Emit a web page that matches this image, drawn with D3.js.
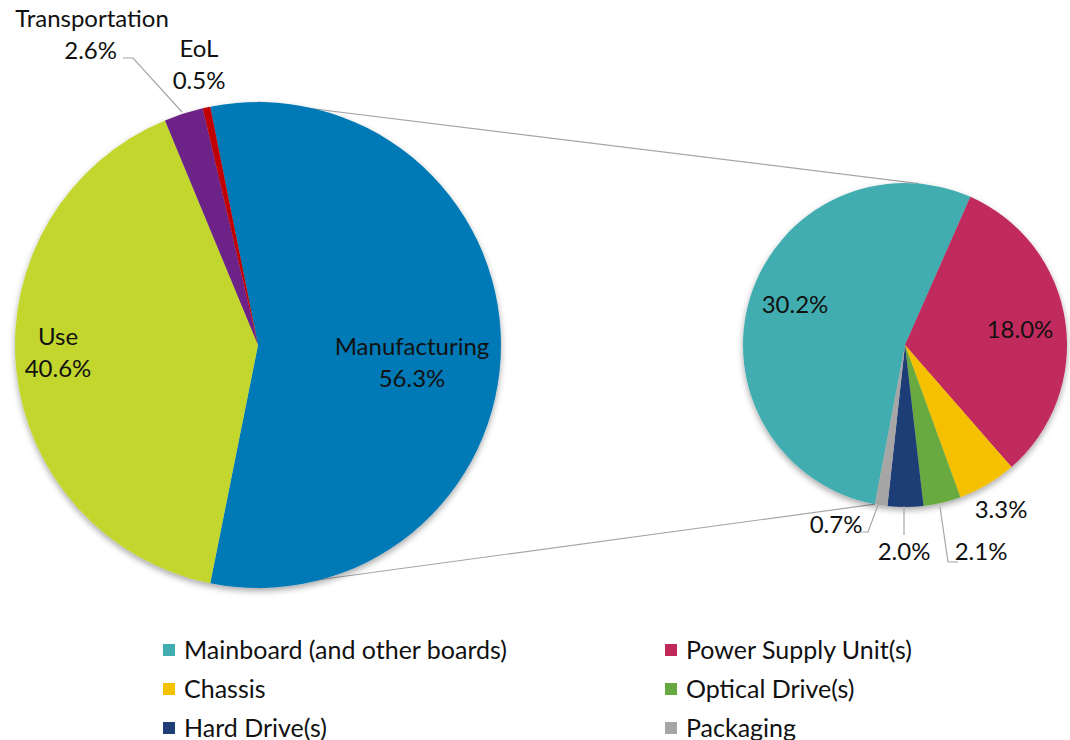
<!DOCTYPE html>
<html>
<head>
<meta charset="utf-8">
<script src="https://cdn.jsdelivr.net/npm/d3@7"></script>
<style>
  body { margin: 0; background: #fff; }
  text { font-family: Lato, "Noto Sans", sans-serif; fill: #111; }
</style>
</head>
<body>
<div id="chart"></div>
<script>
// main pie
var stageNames = ["Manufacturing", "Use", "Transportation", "EoL"];
var stageValues = [56.3, 40.6, 2.6, 0.5];
var stageColors = ["#007ab6", "#c3d62f", "#6c2386", "#c00000"];

// breakdown of manufacturing
var partNames = ["Mainboard (and other boards)", "Power Supply Unit(s)", "Chassis",
  "Optical Drive(s)", "Hard Drive(s)", "Packaging"];
var partValues = [30.2, 18.0, 3.3, 2.1, 2.0, 0.7];
var partColors = ["#42adb0", "#c1295b", "#f5c000", "#68a93f", "#1f3e75", "#a6a6a6"];

var width = 1070, height = 740;
var rad = Math.PI / 180;

var svg = d3.select("#chart").append("svg")
  .attr("width", width)
  .attr("height", height);

var defs = svg.append("defs");
var shadow = defs.append("filter").attr("id", "shadow")
  .attr("x", "-10%").attr("y", "-10%").attr("width", "120%").attr("height", "125%");
shadow.append("feDropShadow")
  .attr("dx", 0).attr("dy", 3).attr("stdDeviation", 3)
  .attr("flood-color", "#000").attr("flood-opacity", 0.35);

var fmt = function (v) { return d3.format(".1f")(v) + "%"; };

// pie geometry
var main = { cx: 258, cy: 345, r: 243 };
var sub = { cx: 905, cy: 345, r: 162 };

var mainSpan = stageValues[0] / d3.sum(stageValues) * 360;
var mainPie = d3.pie().sort(null)
  .startAngle((90 - mainSpan / 2) * rad)
  .endAngle((90 - mainSpan / 2 + 360) * rad);
var subPie = d3.pie().sort(null)
  .startAngle(-169.3 * rad)
  .endAngle((360 - 169.3) * rad);

var mainArcs = mainPie(stageValues);
var subArcs = subPie(partValues);

// connector lines (drawn below the pies)
function onCircle(c, deg) {
  return [c.cx + c.r * Math.sin(deg * rad), c.cy - c.r * Math.cos(deg * rad)];
}
var connectors = [
  [onCircle(main, 0), onCircle(sub, 5)],
  [onCircle(main, 180), onCircle(sub, subArcs[0].startAngle / rad)]
];
svg.selectAll(".connector")
  .data(connectors)
  .enter().append("line")
  .attr("class", "connector")
  .attr("x1", function (d) { return d[0][0]; })
  .attr("y1", function (d) { return d[0][1]; })
  .attr("x2", function (d) { return d[1][0]; })
  .attr("y2", function (d) { return d[1][1]; })
  .attr("stroke", "#a6a6a6")
  .attr("stroke-width", 1.2);

var mainArc = d3.arc().innerRadius(0).outerRadius(main.r);
var subArc = d3.arc().innerRadius(0).outerRadius(sub.r);

var gMain = svg.append("g")
  .attr("transform", "translate(" + main.cx + "," + main.cy + ")");
gMain.append("g").attr("filter", "url(#shadow)")
  .selectAll("path")
  .data(mainArcs)
  .enter().append("path")
  .attr("d", mainArc)
  .attr("fill", function (d, i) { return stageColors[i]; });

var gSub = svg.append("g")
  .attr("transform", "translate(" + sub.cx + "," + sub.cy + ")");
gSub.append("g").attr("filter", "url(#shadow)")
  .selectAll("path")
  .data(subArcs)
  .enter().append("path")
  .attr("d", subArc)
  .attr("fill", function (d, i) { return partColors[i]; });

// labels, positions in page coordinates
var fs = 24;
var mainLabels = [
  { x: 412, y: 347, anchor: "middle" },
  { x: 58, y: 337, anchor: "middle" },
  { x: 92, y: 19, anchor: "middle", x2: 117, anchor2: "end" },
  { x: 199, y: 49, anchor: "middle" }
];
mainLabels.forEach(function (p, i) {
  var t = svg.append("text")
    .attr("font-size", fs);
  t.append("tspan")
    .attr("x", p.x).attr("y", p.y)
    .attr("dy", "0.35em")
    .attr("text-anchor", p.anchor)
    .text(stageNames[i]);
  t.append("tspan")
    .attr("x", p.x2 || p.x).attr("y", p.y + 32)
    .attr("dy", "0.35em")
    .attr("text-anchor", p.anchor2 || p.anchor)
    .text(fmt(stageValues[i]));
});

var subLabels = [
  { x: 795, y: 305 },
  { x: 1020, y: 330 },
  { x: 1001, y: 510 },
  { x: 981, y: 552 },
  { x: 904, y: 552 },
  { x: 836, y: 525 }
];
svg.selectAll(".sublabel")
  .data(subLabels)
  .enter().append("text")
  .attr("class", "sublabel")
  .attr("x", function (d) { return d.x; })
  .attr("y", function (d) { return d.y; })
  .attr("dy", "0.35em")
  .attr("text-anchor", "middle")
  .attr("font-size", fs)
  .text(function (d, i) { return fmt(partValues[i]); });

// leader lines
var leaders = [
  [[123, 58], [133, 58], [182, 112]],
  [[860, 532], [868, 532], [878, 505]],
  [[904, 535], [904, 506]],
  [[958, 562], [948, 562], [940, 507]]
];
svg.selectAll(".leader")
  .data(leaders)
  .enter().append("path")
  .attr("class", "leader")
  .attr("d", d3.line())
  .attr("fill", "none")
  .attr("stroke", "#a6a6a6")
  .attr("stroke-width", 1.2);

// legend
var legend = svg.selectAll(".legend")
  .data(partNames)
  .enter().append("g")
  .attr("class", "legend")
  .attr("transform", function (d, i) {
    return "translate(" + (i % 2 ? 665 : 163) + "," + (650 + Math.floor(i / 2) * 39) + ")";
  });
legend.append("rect")
  .attr("x", 0).attr("y", -6)
  .attr("width", 12).attr("height", 12)
  .attr("fill", function (d, i) { return partColors[i]; });
legend.append("text")
  .attr("x", 21).attr("y", 0)
  .attr("dy", "0.35em")
  .attr("font-size", 25)
  .text(function (d) { return d; });
</script>
</body>
</html>
